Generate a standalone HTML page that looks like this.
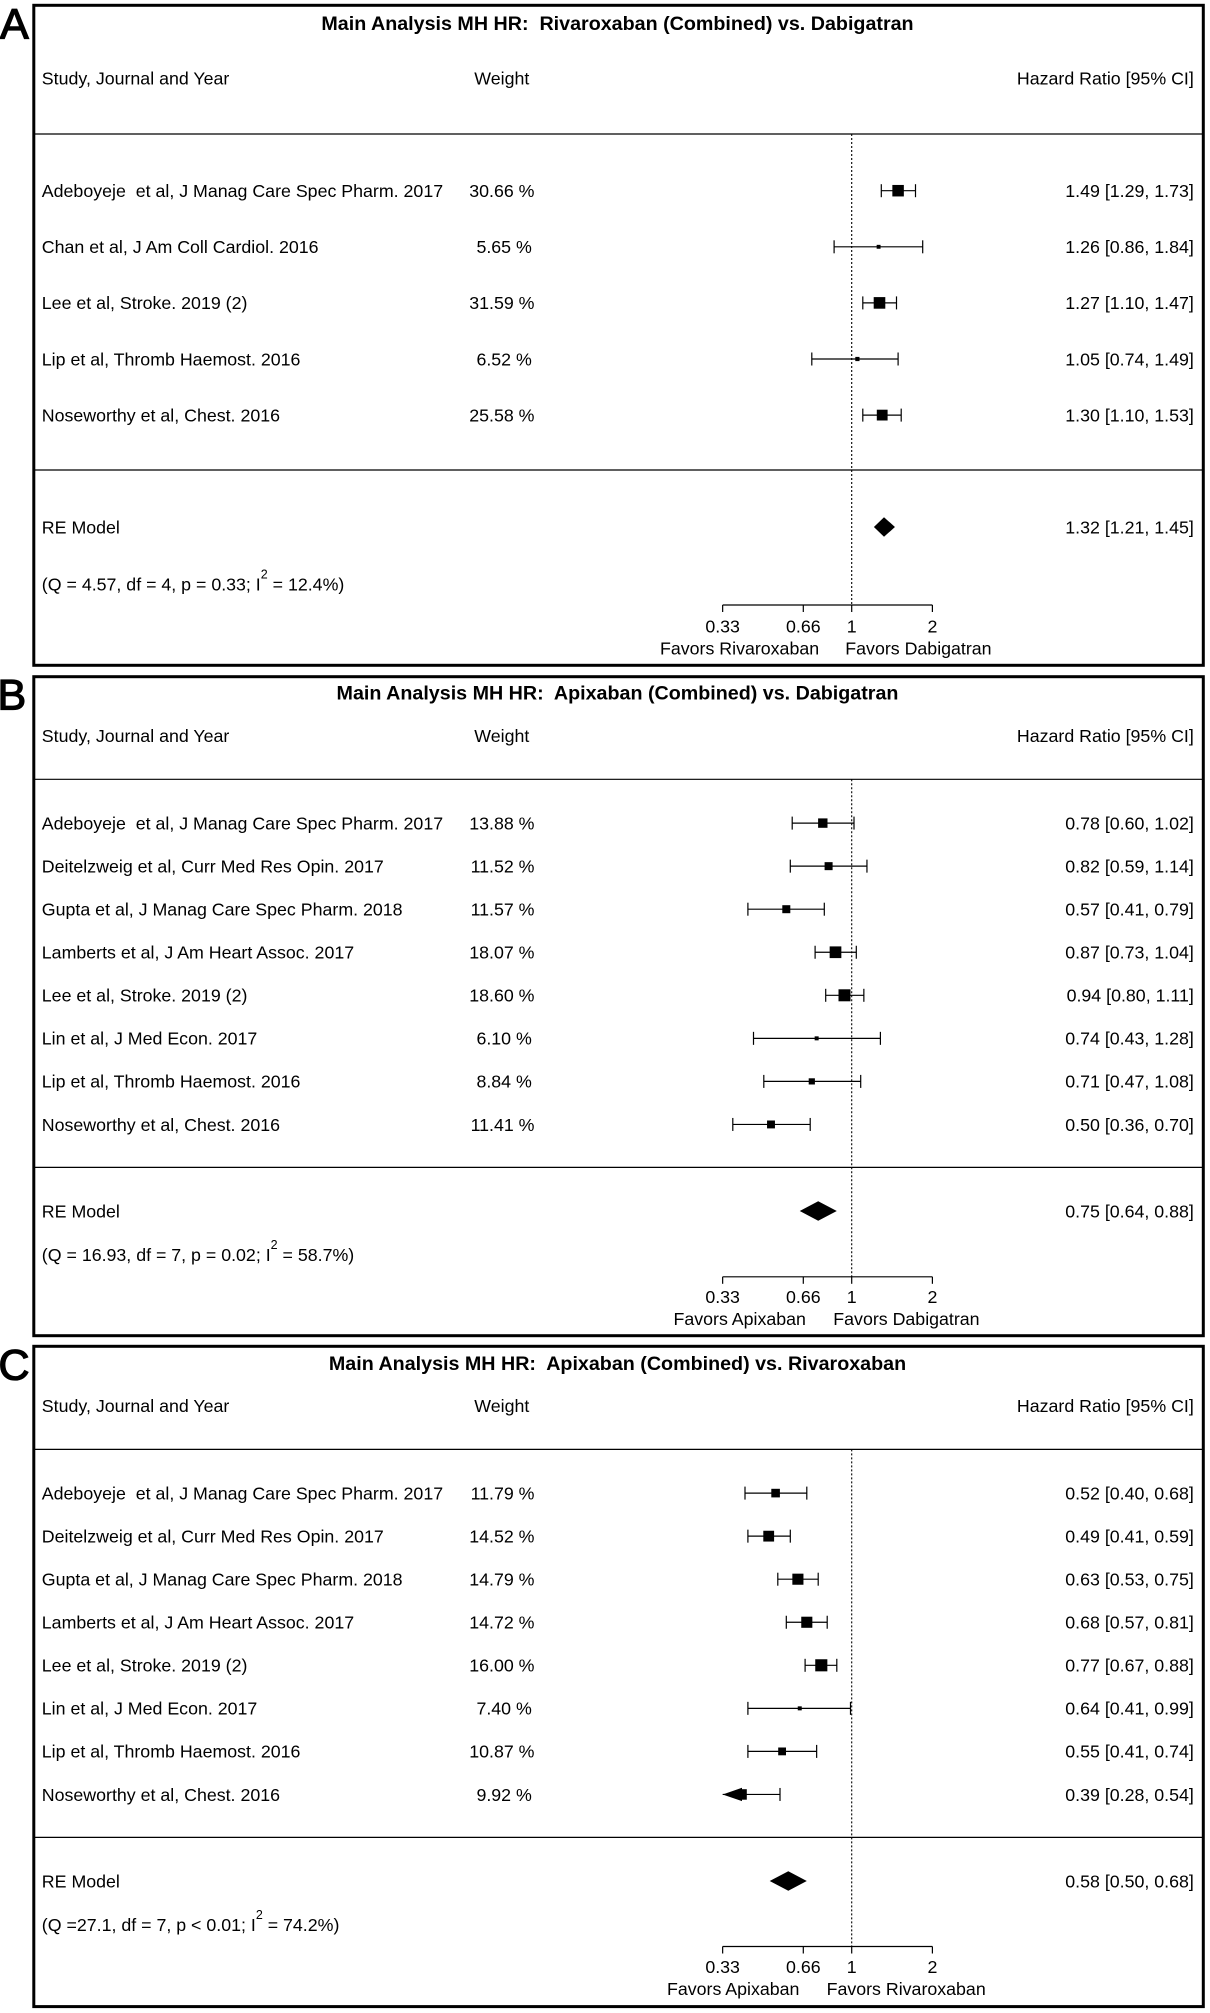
<!DOCTYPE html>
<html>
<head>
<meta charset="utf-8">
<style>
html,body{margin:0;padding:0;background:#fff;}
svg{display:block;}
text{font-family:"Liberation Sans",Arial,sans-serif;fill:#000;white-space:pre;}
.t{font-size:17.8px;}
.b{font-size:19.7px;font-weight:bold;}
.L{font-size:43px;stroke:#000;stroke-width:1.3px;}
</style>
</head>
<body>
<svg xmlns="http://www.w3.org/2000/svg" width="1210" height="2013" viewBox="0 0 1210 2013" xml:space="preserve">
<rect x="0" y="0" width="1210" height="2013" fill="#fff"/>

<!-- Panel labels -->
<text class="L" x="0" y="38.3">A</text>
<text class="L" x="-2.5" y="709.5">B</text>
<text class="L" x="-1.5" y="1379.7">C</text>

<!-- ================= PANEL A ================= -->
<rect x="33.8" y="5.3" width="1169.5" height="660" fill="none" stroke="#000" stroke-width="3"/>
<text class="b" x="617.5" y="29.8" text-anchor="middle">Main Analysis MH HR:  Rivaroxaban (Combined) vs. Dabigatran</text>
<text class="t" x="41.8" y="84.3">Study, Journal and Year</text>
<text class="t" x="501.8" y="84.3" text-anchor="middle">Weight</text>
<text class="t" x="1193.8" y="84.3" text-anchor="end">Hazard Ratio [95% CI]</text>
<line x1="33.8" y1="134" x2="1203.3" y2="134" stroke="#000" stroke-width="1.2"/>
<line x1="33.8" y1="470" x2="1203.3" y2="470" stroke="#000" stroke-width="1.2"/>
<line x1="851.7" y1="134" x2="851.7" y2="605" stroke="#000" stroke-width="1.1" stroke-dasharray="2,2"/>

<g class="t">
<text class="t" x="41.8" y="197">Adeboyeje  et al, J Manag Care Spec Pharm. 2017</text>
<text class="t" x="534.5" y="197" text-anchor="end">30.66 %</text>
<text class="t" x="1193.8" y="197" text-anchor="end">1.49 [1.29, 1.73]</text>

<text class="t" x="41.8" y="253.1">Chan et al, J Am Coll Cardiol. 2016</text>
<text class="t" x="531.8" y="253.1" text-anchor="end">5.65 %</text>
<text class="t" x="1193.8" y="253.1" text-anchor="end">1.26 [0.86, 1.84]</text>

<text class="t" x="41.8" y="309.2">Lee et al, Stroke. 2019 (2)</text>
<text class="t" x="534.5" y="309.2" text-anchor="end">31.59 %</text>
<text class="t" x="1193.8" y="309.2" text-anchor="end">1.27 [1.10, 1.47]</text>

<text class="t" x="41.8" y="365.3">Lip et al, Thromb Haemost. 2016</text>
<text class="t" x="531.8" y="365.3" text-anchor="end">6.52 %</text>
<text class="t" x="1193.8" y="365.3" text-anchor="end">1.05 [0.74, 1.49]</text>

<text class="t" x="41.8" y="421.4">Noseworthy et al, Chest. 2016</text>
<text class="t" x="534.5" y="421.4" text-anchor="end">25.58 %</text>
<text class="t" x="1193.8" y="421.4" text-anchor="end">1.30 [1.10, 1.53]</text>

<text class="t" x="41.8" y="533.3">RE Model</text>
<text class="t" x="1193.8" y="533.3" text-anchor="end">1.32 [1.21, 1.45]</text>
<text class="t" x="41.8" y="590.3">(Q = 4.57, df = 4, p = 0.33; I<tspan font-size="12.5" dy="-12">2</tspan><tspan dy="12"> = 12.4%)</tspan></text>
</g>

<g stroke="#000" stroke-width="1.2" fill="none">
<line x1="881.3" y1="190.7" x2="915.5" y2="190.7"/>
<line x1="881.3" y1="184.2" x2="881.3" y2="197.2"/>
<line x1="915.5" y1="184.2" x2="915.5" y2="197.2"/>
<line x1="834.1" y1="246.8" x2="922.7" y2="246.8"/>
<line x1="834.1" y1="240.3" x2="834.1" y2="253.3"/>
<line x1="922.7" y1="240.3" x2="922.7" y2="253.3"/>
<line x1="862.8" y1="302.9" x2="896.5" y2="302.9"/>
<line x1="862.8" y1="296.4" x2="862.8" y2="309.4"/>
<line x1="896.5" y1="296.4" x2="896.5" y2="309.4"/>
<line x1="811.8" y1="359" x2="898.1" y2="359"/>
<line x1="811.8" y1="352.5" x2="811.8" y2="365.5"/>
<line x1="898.1" y1="352.5" x2="898.1" y2="365.5"/>
<line x1="862.8" y1="415.1" x2="901.2" y2="415.1"/>
<line x1="862.8" y1="408.6" x2="862.8" y2="421.6"/>
<line x1="901.2" y1="408.6" x2="901.2" y2="421.6"/>
<line x1="722.65" y1="605" x2="932.4" y2="605"/>
<line x1="722.65" y1="605" x2="722.65" y2="612"/>
<line x1="803.3" y1="605" x2="803.3" y2="612"/>
<line x1="851.7" y1="605" x2="851.7" y2="612"/>
<line x1="932.4" y1="605" x2="932.4" y2="612"/>
</g>
<g fill="#000">
<rect x="892.35" y="184.95" width="11.5" height="11.5"/>
<rect x="876.65" y="244.85" width="3.9" height="3.9"/>
<rect x="873.7" y="297.1" width="11.6" height="11.6"/>
<rect x="855.3" y="356.9" width="4.2" height="4.2"/>
<rect x="876.8" y="409.7" width="10.8" height="10.8"/>
<polygon points="873.9,527 884,517.2 894.95,527 884,536.8"/>
</g>
<text class="t" x="722.65" y="632.3" text-anchor="middle">0.33</text>
<text class="t" x="803.3" y="632.3" text-anchor="middle">0.66</text>
<text class="t" x="851.7" y="632.3" text-anchor="middle">1</text>
<text class="t" x="932.4" y="632.3" text-anchor="middle">2</text>
<text class="t" x="660" y="654.3">Favors Rivaroxaban</text>
<text class="t" x="845.3" y="654.3">Favors Dabigatran</text>

<!-- ================= PANEL B ================= -->
<rect x="33.8" y="676.7" width="1169.5" height="659" fill="none" stroke="#000" stroke-width="3"/>
<text class="b" x="617.5" y="699.6" text-anchor="middle">Main Analysis MH HR:  Apixaban (Combined) vs. Dabigatran</text>
<text class="t" x="41.8" y="741.9">Study, Journal and Year</text>
<text class="t" x="501.8" y="741.9" text-anchor="middle">Weight</text>
<text class="t" x="1193.8" y="741.9" text-anchor="end">Hazard Ratio [95% CI]</text>
<line x1="33.8" y1="779.3" x2="1203.3" y2="779.3" stroke="#000" stroke-width="1.2"/>
<line x1="33.8" y1="1167.4" x2="1203.3" y2="1167.4" stroke="#000" stroke-width="1.2"/>
<line x1="851.7" y1="779.3" x2="851.7" y2="1276.8" stroke="#000" stroke-width="1.1" stroke-dasharray="2,2"/>

<text class="t" x="41.8" y="829.4">Adeboyeje  et al, J Manag Care Spec Pharm. 2017</text>
<text class="t" x="534.5" y="829.4" text-anchor="end">13.88 %</text>
<text class="t" x="1193.8" y="829.4" text-anchor="end">0.78 [0.60, 1.02]</text>

<text class="t" x="41.8" y="872.45">Deitelzweig et al, Curr Med Res Opin. 2017</text>
<text class="t" x="534.5" y="872.45" text-anchor="end">11.52 %</text>
<text class="t" x="1193.8" y="872.45" text-anchor="end">0.82 [0.59, 1.14]</text>

<text class="t" x="41.8" y="915.5">Gupta et al, J Manag Care Spec Pharm. 2018</text>
<text class="t" x="534.5" y="915.5" text-anchor="end">11.57 %</text>
<text class="t" x="1193.8" y="915.5" text-anchor="end">0.57 [0.41, 0.79]</text>

<text class="t" x="41.8" y="958.55">Lamberts et al, J Am Heart Assoc. 2017</text>
<text class="t" x="534.5" y="958.55" text-anchor="end">18.07 %</text>
<text class="t" x="1193.8" y="958.55" text-anchor="end">0.87 [0.73, 1.04]</text>

<text class="t" x="41.8" y="1001.6">Lee et al, Stroke. 2019 (2)</text>
<text class="t" x="534.5" y="1001.6" text-anchor="end">18.60 %</text>
<text class="t" x="1193.8" y="1001.6" text-anchor="end">0.94 [0.80, 1.11]</text>

<text class="t" x="41.8" y="1044.65">Lin et al, J Med Econ. 2017</text>
<text class="t" x="531.8" y="1044.65" text-anchor="end">6.10 %</text>
<text class="t" x="1193.8" y="1044.65" text-anchor="end">0.74 [0.43, 1.28]</text>

<text class="t" x="41.8" y="1087.7">Lip et al, Thromb Haemost. 2016</text>
<text class="t" x="531.8" y="1087.7" text-anchor="end">8.84 %</text>
<text class="t" x="1193.8" y="1087.7" text-anchor="end">0.71 [0.47, 1.08]</text>

<text class="t" x="41.8" y="1130.75">Noseworthy et al, Chest. 2016</text>
<text class="t" x="534.5" y="1130.75" text-anchor="end">11.41 %</text>
<text class="t" x="1193.8" y="1130.75" text-anchor="end">0.50 [0.36, 0.70]</text>

<text class="t" x="41.8" y="1217.3">RE Model</text>
<text class="t" x="1193.8" y="1217.3" text-anchor="end">0.75 [0.64, 0.88]</text>
<text class="t" x="41.8" y="1260.8">(Q = 16.93, df = 7, p = 0.02; I<tspan font-size="12.5" dy="-12">2</tspan><tspan dy="12"> = 58.7%)</tspan></text>

<g stroke="#000" stroke-width="1.2" fill="none">
<line x1="792.2" y1="823.1" x2="854" y2="823.1"/>
<line x1="792.2" y1="816.6" x2="792.2" y2="829.6"/>
<line x1="854" y1="816.6" x2="854" y2="829.6"/>
<line x1="790.3" y1="866.15" x2="866.95" y2="866.15"/>
<line x1="790.3" y1="859.65" x2="790.3" y2="872.65"/>
<line x1="866.95" y1="859.65" x2="866.95" y2="872.65"/>
<line x1="747.9" y1="909.2" x2="824.3" y2="909.2"/>
<line x1="747.9" y1="902.7" x2="747.9" y2="915.7"/>
<line x1="824.3" y1="902.7" x2="824.3" y2="915.7"/>
<line x1="815.1" y1="952.25" x2="856.3" y2="952.25"/>
<line x1="815.1" y1="945.75" x2="815.1" y2="958.75"/>
<line x1="856.3" y1="945.75" x2="856.3" y2="958.75"/>
<line x1="825.7" y1="995.3" x2="863.85" y2="995.3"/>
<line x1="825.7" y1="988.8" x2="825.7" y2="1001.8"/>
<line x1="863.85" y1="988.8" x2="863.85" y2="1001.8"/>
<line x1="753.5" y1="1038.35" x2="880.4" y2="1038.35"/>
<line x1="753.5" y1="1031.85" x2="753.5" y2="1044.85"/>
<line x1="880.4" y1="1031.85" x2="880.4" y2="1044.85"/>
<line x1="763.8" y1="1081.4" x2="860.7" y2="1081.4"/>
<line x1="763.8" y1="1074.9" x2="763.8" y2="1087.9"/>
<line x1="860.7" y1="1074.9" x2="860.7" y2="1087.9"/>
<line x1="732.8" y1="1124.45" x2="810.2" y2="1124.45"/>
<line x1="732.8" y1="1117.95" x2="732.8" y2="1130.95"/>
<line x1="810.2" y1="1117.95" x2="810.2" y2="1130.95"/>
<line x1="722.65" y1="1276.8" x2="932.4" y2="1276.8"/>
<line x1="722.65" y1="1276.8" x2="722.65" y2="1283.8"/>
<line x1="803.3" y1="1276.8" x2="803.3" y2="1283.8"/>
<line x1="851.7" y1="1276.8" x2="851.7" y2="1283.8"/>
<line x1="932.4" y1="1276.8" x2="932.4" y2="1283.8"/>
</g>
<g fill="#000">
<rect x="818.1" y="818.4" width="9.4" height="9.4"/>
<rect x="824.6" y="862.15" width="8" height="8"/>
<rect x="782.3" y="905.2" width="8" height="8"/>
<rect x="829.65" y="946.4" width="11.7" height="11.7"/>
<rect x="838.5" y="989.3" width="12" height="12"/>
<rect x="814.65" y="1036.35" width="4" height="4"/>
<rect x="808.7" y="1078.3" width="6.2" height="6.2"/>
<rect x="767.05" y="1120.5" width="7.9" height="7.9"/>
<polygon points="799.75,1211 818.2,1201.3 836.8,1211 818.2,1220.7"/>
</g>
<text class="t" x="722.65" y="1302.9" text-anchor="middle">0.33</text>
<text class="t" x="803.3" y="1302.9" text-anchor="middle">0.66</text>
<text class="t" x="851.7" y="1302.9" text-anchor="middle">1</text>
<text class="t" x="932.4" y="1302.9" text-anchor="middle">2</text>
<text class="t" x="673.5" y="1325.2">Favors Apixaban</text>
<text class="t" x="833.3" y="1325.2">Favors Dabigatran</text>

<!-- ================= PANEL C ================= -->
<rect x="33.8" y="1346.3" width="1169.5" height="660.3" fill="none" stroke="#000" stroke-width="3"/>
<text class="b" x="617.5" y="1369.9" text-anchor="middle">Main Analysis MH HR:  Apixaban (Combined) vs. Rivaroxaban</text>
<text class="t" x="41.8" y="1411.9">Study, Journal and Year</text>
<text class="t" x="501.8" y="1411.9" text-anchor="middle">Weight</text>
<text class="t" x="1193.8" y="1411.9" text-anchor="end">Hazard Ratio [95% CI]</text>
<line x1="33.8" y1="1449.4" x2="1203.3" y2="1449.4" stroke="#000" stroke-width="1.2"/>
<line x1="33.8" y1="1837.4" x2="1203.3" y2="1837.4" stroke="#000" stroke-width="1.2"/>
<line x1="851.7" y1="1449.4" x2="851.7" y2="1946.5" stroke="#000" stroke-width="1.1" stroke-dasharray="2,2"/>

<text class="t" x="41.8" y="1499.4">Adeboyeje  et al, J Manag Care Spec Pharm. 2017</text>
<text class="t" x="534.5" y="1499.4" text-anchor="end">11.79 %</text>
<text class="t" x="1193.8" y="1499.4" text-anchor="end">0.52 [0.40, 0.68]</text>

<text class="t" x="41.8" y="1542.45">Deitelzweig et al, Curr Med Res Opin. 2017</text>
<text class="t" x="534.5" y="1542.45" text-anchor="end">14.52 %</text>
<text class="t" x="1193.8" y="1542.45" text-anchor="end">0.49 [0.41, 0.59]</text>

<text class="t" x="41.8" y="1585.5">Gupta et al, J Manag Care Spec Pharm. 2018</text>
<text class="t" x="534.5" y="1585.5" text-anchor="end">14.79 %</text>
<text class="t" x="1193.8" y="1585.5" text-anchor="end">0.63 [0.53, 0.75]</text>

<text class="t" x="41.8" y="1628.55">Lamberts et al, J Am Heart Assoc. 2017</text>
<text class="t" x="534.5" y="1628.55" text-anchor="end">14.72 %</text>
<text class="t" x="1193.8" y="1628.55" text-anchor="end">0.68 [0.57, 0.81]</text>

<text class="t" x="41.8" y="1671.6">Lee et al, Stroke. 2019 (2)</text>
<text class="t" x="534.5" y="1671.6" text-anchor="end">16.00 %</text>
<text class="t" x="1193.8" y="1671.6" text-anchor="end">0.77 [0.67, 0.88]</text>

<text class="t" x="41.8" y="1714.65">Lin et al, J Med Econ. 2017</text>
<text class="t" x="531.8" y="1714.65" text-anchor="end">7.40 %</text>
<text class="t" x="1193.8" y="1714.65" text-anchor="end">0.64 [0.41, 0.99]</text>

<text class="t" x="41.8" y="1757.7">Lip et al, Thromb Haemost. 2016</text>
<text class="t" x="534.5" y="1757.7" text-anchor="end">10.87 %</text>
<text class="t" x="1193.8" y="1757.7" text-anchor="end">0.55 [0.41, 0.74]</text>

<text class="t" x="41.8" y="1800.75">Noseworthy et al, Chest. 2016</text>
<text class="t" x="531.8" y="1800.75" text-anchor="end">9.92 %</text>
<text class="t" x="1193.8" y="1800.75" text-anchor="end">0.39 [0.28, 0.54]</text>

<text class="t" x="41.8" y="1887.3">RE Model</text>
<text class="t" x="1193.8" y="1887.3" text-anchor="end">0.58 [0.50, 0.68]</text>
<text class="t" x="41.8" y="1931">(Q =27.1, df = 7, p &lt; 0.01; I<tspan font-size="12.5" dy="-12">2</tspan><tspan dy="12"> = 74.2%)</tspan></text>

<g stroke="#000" stroke-width="1.2" fill="none">
<line x1="745" y1="1493.1" x2="806.8" y2="1493.1"/>
<line x1="745" y1="1486.6" x2="745" y2="1499.6"/>
<line x1="806.8" y1="1486.6" x2="806.8" y2="1499.6"/>
<line x1="747.9" y1="1536.15" x2="790.3" y2="1536.15"/>
<line x1="747.9" y1="1529.65" x2="747.9" y2="1542.65"/>
<line x1="790.3" y1="1529.65" x2="790.3" y2="1542.65"/>
<line x1="777.8" y1="1579.2" x2="818.2" y2="1579.2"/>
<line x1="777.8" y1="1572.7" x2="777.8" y2="1585.7"/>
<line x1="818.2" y1="1572.7" x2="818.2" y2="1585.7"/>
<line x1="786.3" y1="1622.25" x2="827.2" y2="1622.25"/>
<line x1="786.3" y1="1615.75" x2="786.3" y2="1628.75"/>
<line x1="827.2" y1="1615.75" x2="827.2" y2="1628.75"/>
<line x1="805.1" y1="1665.3" x2="836.8" y2="1665.3"/>
<line x1="805.1" y1="1658.8" x2="805.1" y2="1671.8"/>
<line x1="836.8" y1="1658.8" x2="836.8" y2="1671.8"/>
<line x1="747.9" y1="1708.35" x2="850.5" y2="1708.35"/>
<line x1="747.9" y1="1701.85" x2="747.9" y2="1714.85"/>
<line x1="850.5" y1="1701.85" x2="850.5" y2="1714.85"/>
<line x1="747.9" y1="1751.4" x2="816.65" y2="1751.4"/>
<line x1="747.9" y1="1744.9" x2="747.9" y2="1757.9"/>
<line x1="816.65" y1="1744.9" x2="816.65" y2="1757.9"/>
<line x1="722.65" y1="1794.45" x2="780" y2="1794.45"/>
<line x1="780" y1="1787.95" x2="780" y2="1800.95"/>
<line x1="722.65" y1="1946.5" x2="932.4" y2="1946.5"/>
<line x1="722.65" y1="1946.5" x2="722.65" y2="1953.5"/>
<line x1="803.3" y1="1946.5" x2="803.3" y2="1953.5"/>
<line x1="851.7" y1="1946.5" x2="851.7" y2="1953.5"/>
<line x1="932.4" y1="1946.5" x2="932.4" y2="1953.5"/>
</g>
<g fill="#000">
<rect x="771.3" y="1488.8" width="8.6" height="8.6"/>
<rect x="763.3" y="1530.75" width="10.8" height="10.8"/>
<rect x="792.35" y="1573.65" width="11.1" height="11.1"/>
<rect x="801.25" y="1616.7" width="11.1" height="11.1"/>
<rect x="815.25" y="1659.25" width="12.1" height="12.1"/>
<rect x="797.75" y="1706.35" width="4" height="4"/>
<rect x="778.2" y="1747.5" width="7.8" height="7.8"/>
<polygon points="722.65,1794.45 742,1787.8 742,1801.1"/>
<rect x="739" y="1789.2" width="7.8" height="10.5"/>
<polygon points="769.7,1881 788.3,1871.3 806.8,1881 788.3,1890.7"/>
</g>
<text class="t" x="722.65" y="1973" text-anchor="middle">0.33</text>
<text class="t" x="803.3" y="1973" text-anchor="middle">0.66</text>
<text class="t" x="851.7" y="1973" text-anchor="middle">1</text>
<text class="t" x="932.4" y="1973" text-anchor="middle">2</text>
<text class="t" x="667" y="1995.2">Favors Apixaban</text>
<text class="t" x="826.6" y="1995.2">Favors Rivaroxaban</text>
</svg>
</body>
</html>
